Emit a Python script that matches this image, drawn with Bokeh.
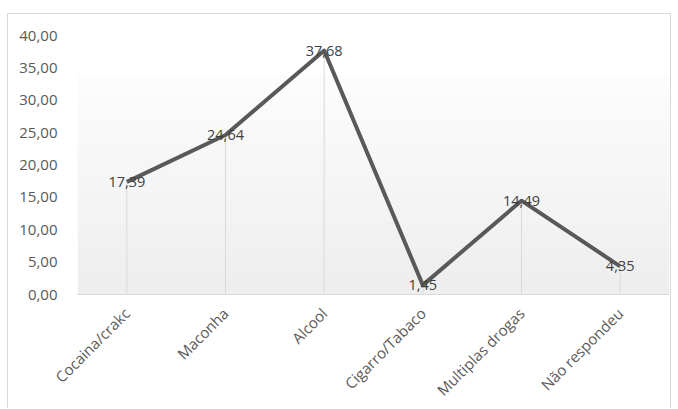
import numpy as np
from bokeh.plotting import figure
from bokeh.models import FixedTicker, CustomJSTickFormatter
from bokeh.core.properties import value
from bokeh.embed import file_html
from bokeh.resources import INLINE

# Substâncias e percentuais (%)
categorias = ["Cocaina/crakc", "Maconha", "Alcool", "Cigarro/Tabaco", "Multiplas drogas", "Não respondeu"]
percentuais = [17.39, 24.64, 37.68, 1.45, 14.49, 4.35]
y_ticks = [0, 5, 10, 15, 20, 25, 30, 35, 40]

FONT = "Open Sans"
rotulos = [f"{v:.2f}".replace(".", ",") for v in percentuais]

p = figure(
    x_range=categorias,
    y_range=(y_ticks[0], y_ticks[-1]),
    width=664, height=395,
    output_backend="svg", toolbar_location=None,
    min_border_left=69, min_border_right=3, min_border_top=21, min_border_bottom=100,
    background_fill_color="white", border_fill_color="white",
    margin=(13, 0, 0, 7),
    styles={
        "border-top": "1px solid #d9d9d9",
        "border-left": "1px solid #d9d9d9",
        "border-right": "1px solid #d9d9d9",
    },
)
p.outline_line_color = None

# soft vertical gradient behind the plot area
n = 64
t = np.linspace(0, 1, n)  # 0 = bottom, 1 = top
shade = np.where(t > 0.85, 255, 238 + (253 - 238) * (t / 0.85))
g = shade.astype(np.uint8)
img = np.zeros((n, 1), dtype=np.uint32)
view = img.view(dtype=np.uint8).reshape((n, 1, 4))
view[:, 0, 0] = g
view[:, 0, 1] = g
view[:, 0, 2] = g
view[:, 0, 3] = 255
p.image_rgba(image=[img], x=0, y=y_ticks[0], dw=len(categorias), dh=y_ticks[-1] - y_ticks[0])

# drop lines from each point to the axis
p.segment(x0=categorias, y0=[0] * len(categorias), x1=categorias, y1=percentuais,
          line_color="#d9d9d9", line_width=1)

# main series
p.line(x=categorias, y=percentuais, line_color="#595959", line_width=4, line_join="round")

# value labels centred on the points
p.text(x=categorias, y=percentuais, text=rotulos, text_align="center", text_baseline="middle",
       text_font=value(FONT), text_font_size="14.5px", text_color="#404040")

p.xgrid.grid_line_color = None
p.ygrid.grid_line_color = None

p.yaxis.ticker = FixedTicker(ticks=y_ticks)
p.yaxis.formatter = CustomJSTickFormatter(code="return tick.toFixed(2).replace('.', ',');")
p.yaxis.axis_line_color = None
p.yaxis.major_tick_line_color = None
p.yaxis.minor_tick_line_color = None
p.yaxis.major_label_text_font = FONT
p.yaxis.major_label_text_font_size = "15px"
p.yaxis.major_label_text_color = "#595959"
p.yaxis.major_label_standoff = 14

p.xaxis.axis_line_color = "#d9d9d9"
p.xaxis.axis_line_width = 1
p.xaxis.major_tick_line_color = None
p.xaxis.minor_tick_line_color = None
p.xaxis.major_label_orientation = np.pi / 4
p.xaxis.major_label_text_font = FONT
p.xaxis.major_label_text_font_size = "15px"
p.xaxis.major_label_text_color = "#595959"
p.xaxis.major_label_standoff = 10

open("out.html", "w").write(file_html(p, INLINE))
